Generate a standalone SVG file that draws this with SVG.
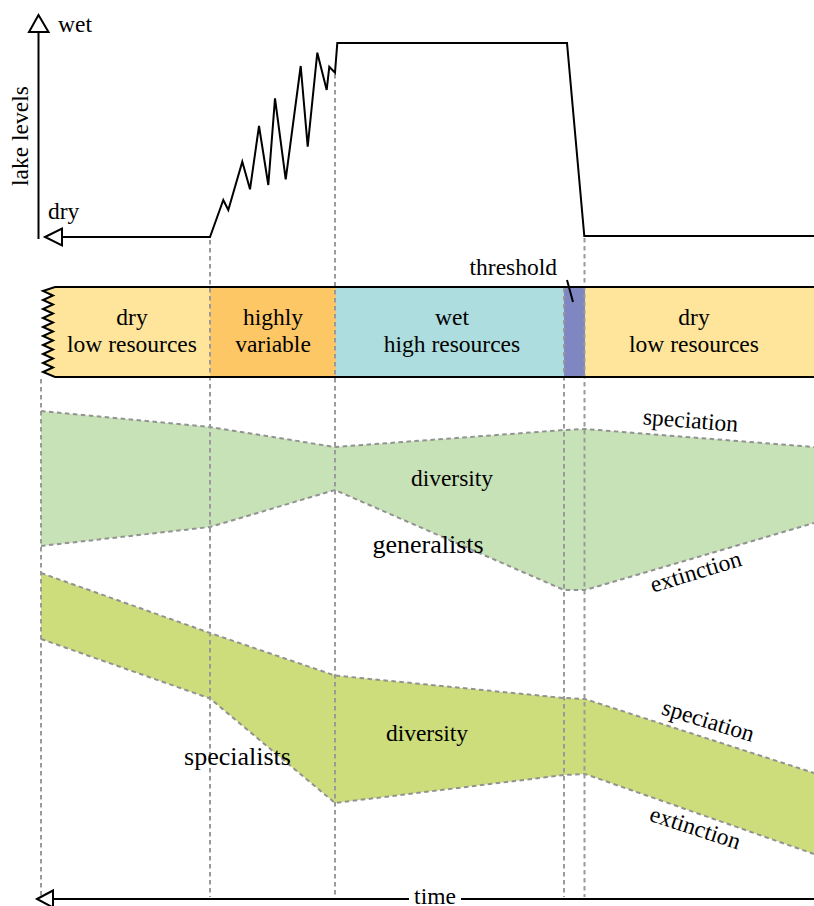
<svg xmlns="http://www.w3.org/2000/svg" width="814" height="906" viewBox="0 0 814 906" font-family="'Liberation Serif', 'DejaVu Serif', serif">
<style>
text{font-family:'Liberation Serif','DejaVu Serif',serif;fill:#000;font-size:23.5px}
.m{text-anchor:middle}
.big{font-size:26px}
.guide{stroke:#9a9a9a;stroke-width:2;stroke-dasharray:4.5 3.5;fill:none}
.edge{stroke:#929292;stroke-width:2;stroke-dasharray:4.5 3.5;fill:none}
.ink{stroke:#000;stroke-width:2;fill:none}
.arrow{stroke:#000;stroke-width:2;fill:#fff;stroke-linejoin:miter}
</style>
<rect width="814" height="906" fill="#fff"/>

<g id="band">
  <g id="band-dry-1">
    <path d="M55,287 L43,291 L53,295.5 L43,300 L53,304.5 L43,309 L53,313.5 L43,318 L53,322.5 L43,327 L53,331.5 L43,336 L53,340.5 L43,345 L53,349.5 L43,354 L53,358.5 L43,363 L53,367.5 L43,372 L55,377 L210,377 L210,287 Z" fill="#FEE59B"/>
    <text class="m" x="132" y="325">dry</text>
    <text class="m" x="132" y="352">low resources</text>
  </g>
  <g id="band-variable">
    <rect x="210" y="287" width="126" height="90" fill="#FEC765"/>
    <text class="m" x="273" y="325">highly</text>
    <text class="m" x="273" y="352">variable</text>
  </g>
  <g id="band-wet">
    <rect x="336" y="287" width="228" height="90" fill="#ADDDDF"/>
    <text class="m" x="452" y="325">wet</text>
    <text class="m" x="452" y="352">high resources</text>
  </g>
  <g id="band-threshold">
    <rect x="564" y="287" width="21" height="90" fill="#7F87C3"/>
    <text x="557" y="275" text-anchor="end">threshold</text>
  </g>
  <g id="band-dry-2">
    <rect x="585" y="287" width="229" height="90" fill="#FEE59B"/>
    <text class="m" x="694" y="325">dry</text>
    <text class="m" x="694" y="352">low resources</text>
  </g>
</g>

<g id="generalists">
  <polygon points="41,411 210,427 335,447 564,430 585,429 814,447 814,523 585,590 564,590 335,490 210,527 41,546" fill="#C8E2B7"/>
  <polyline class="edge" points="41,411 210,427 335,447 564,430 585,429 814,447"/>
  <polyline class="edge" points="41,546 210,527 335,490 564,590 585,590 814,523"/>
</g>

<g id="specialists">
  <polygon points="41,573 210,633 335,675.5 564,698 585,699 814,773 814,854 585,774 564,775 335,803 210,698.5 41,639" fill="#CDDD7C"/>
  <polyline class="edge" points="41,573 210,633 335,675.5 564,698 585,699 814,773"/>
  <polyline class="edge" points="41,639 210,698.5 335,803 564,775 585,774 814,854"/>
</g>

<g id="connectors">
  <line class="guide" x1="41" y1="379" x2="41" y2="897"/>
  <line class="guide" x1="210" y1="240" x2="210" y2="897"/>
  <line class="guide" x1="335" y1="74" x2="335" y2="897"/>
  <line class="guide" x1="564" y1="288" x2="564" y2="897"/>
  <line class="guide" x1="584.5" y1="238" x2="584.5" y2="897"/>
  <line class="ink" x1="567" y1="280" x2="573" y2="302"/>
</g>

<g id="band-outline">
  <path class="ink" d="M814,287 L55,287 L43,291 L53,295.5 L43,300 L53,304.5 L43,309 L53,313.5 L43,318 L53,322.5 L43,327 L53,331.5 L43,336 L53,340.5 L43,345 L53,349.5 L43,354 L53,358.5 L43,363 L53,367.5 L43,372 L55,377 L814,377"/>
</g>

<g id="labels">
  <text class="m" x="452" y="486">diversity</text>
  <text class="m big" x="428" y="553">generalists</text>
  <text class="m" x="427" y="741">diversity</text>
  <text class="m big" x="237.5" y="765">specialists</text>
  <text class="m" transform="translate(690,428) rotate(4.5)">speciation</text>
  <text class="m" transform="translate(698,579) rotate(-17)">extinction</text>
  <text class="m" transform="translate(706,728) rotate(17)">speciation</text>
  <text class="m" transform="translate(693,835) rotate(18)">extinction</text>
</g>

<g id="lake-levels">
  <line class="ink" x1="38.5" y1="239" x2="38.5" y2="32"/>
  <polygon class="arrow" points="38.5,15 29,32 48.5,32"/>
  <path class="ink" stroke-linejoin="miter" d="M62,237 L210,237 L223.3,200 L228.3,210 L242.3,161.7 L250,189.3 L259,126 L268.3,185 L275,98.3 L285.7,179.3 L300.7,66 L307.7,146.7 L317.3,52.7 L326.7,90 L329.3,66.7 L335,72.7 L337.3,43 L567,43 L584.3,236 L814,236"/>
  <polygon class="arrow" points="45,237 62,228.5 62,245.5"/>
  <text x="58" y="32">wet</text>
  <text x="48" y="219">dry</text>
  <text class="m" transform="translate(28,136) rotate(-90)">lake levels</text>
</g>

<g id="time-axis">
  <line class="ink" x1="53" y1="899" x2="409" y2="899"/>
  <line class="ink" x1="461" y1="899" x2="814" y2="899"/>
  <polygon class="arrow" points="37,899 53,890.5 53,907.5"/>
  <text class="m" x="435" y="904">time</text>
</g>
</svg>
